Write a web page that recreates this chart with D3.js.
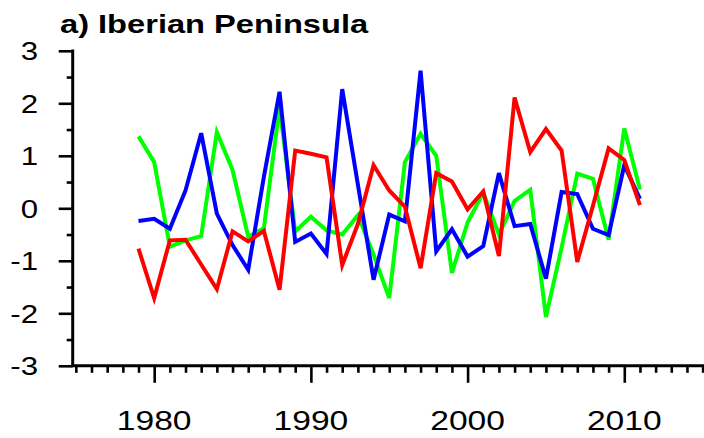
<!DOCTYPE html>
<html>
<head>
<meta charset="utf-8">
<script src="https://cdn.jsdelivr.net/npm/d3@7"></script>
<style>
  html, body { margin: 0; padding: 0; background: #fff; }
  svg { display: block; }
  text { font-family: "Liberation Sans", Arial, sans-serif; fill: #000; }
</style>
</head>
<body>
<svg id="chart" width="704" height="438"></svg>
<script>
// Yearly standardized anomalies, 1979-2011
const years = d3.range(1979, 2012);
const greenSeries = [1.37, 0.88, -0.73, -0.61, -0.53, 1.45, 0.73, -0.54, -0.38, 1.93,
  -0.44, -0.16, -0.42, -0.50, -0.13, -0.88, -1.71, 0.88, 1.42, 1.00,
  -1.23, -0.27, 0.30, -0.50, 0.14, 0.35, -2.07, -0.75, 0.66, 0.56,
  -0.60, 1.52, 0.36];
const blueSeries = [-0.24, -0.20, -0.39, 0.34, 1.43, -0.10, -0.70, -1.17, 0.60, 2.22,
  -0.64, -0.48, -0.87, 2.27, 0.45, -1.36, -0.12, -0.25, 2.62, -0.82,
  -0.40, -0.92, -0.72, 0.67, -0.34, -0.30, -1.34, 0.31, 0.27, -0.39,
  -0.51, 0.82, 0.18];
const redSeries = [-0.77, -1.71, -0.61, -0.60, -1.07, -1.54, -0.44, -0.63, -0.43, -1.55,
  1.10, 1.04, 0.97, -1.08, -0.30, 0.82, 0.34, 0.03, -1.14, 0.67,
  0.51, -0.02, 0.32, -0.91, 2.11, 1.07, 1.51, 1.10, -1.02, 0.05,
  1.14, 0.92, 0.06];

const yTickValues = [-3, -2, -1, 0, 1, 2, 3];
const yTickLabels = ["-3", "-2", "-1", "0", "1", "2", "3"];
const xTickValues = [1980, 1990, 2000, 2010];
const xTickLabels = ["1980", "1990", "2000", "2010"];
const title = "a) Iberian Peninsula";

const svg = d3.select("#chart");

const x = d3.scaleLinear().domain([1974.8, 2016]).range([72.7, 718.3]);
const y = d3.scaleLinear().domain([-3, 3]).range([365.8, 50.8]);

const axisColor = "#000";

// Y axis: major ticks at integers, minor at halves
const yAxis = svg.append("g").attr("transform", `translate(${x(1974.8)},0)`);
yAxis.call(d3.axisLeft(y).tickValues(yTickValues).tickSize(14).tickFormat(""))
  .call(g => g.select(".domain").remove());
const yMinor = svg.append("g").attr("transform", `translate(${x(1974.8)},0)`);
yMinor.call(d3.axisLeft(y).tickValues(d3.range(-2.5, 3, 1)).tickSize(6).tickFormat(""))
  .call(g => g.select(".domain").remove());

// X axis: a tick each year, longer at each decade
const xAxis = svg.append("g").attr("transform", `translate(0,${y(-3)})`);
xAxis.call(d3.axisBottom(x).tickValues(d3.range(1975, 2016).filter(v => v % 10 !== 0)).tickSize(7).tickFormat(""))
  .call(g => g.select(".domain").remove());
const xMajor = svg.append("g").attr("transform", `translate(0,${y(-3)})`);
xMajor.call(d3.axisBottom(x).tickValues(xTickValues).tickSize(17).tickFormat(""))
  .call(g => g.select(".domain").remove());

svg.selectAll(".tick line").attr("stroke", axisColor).attr("stroke-width", 2.6);

// Axis lines
svg.append("line")
  .attr("x1", x(1974.8)).attr("x2", x(1974.8))
  .attr("y1", y(3) - 1.3).attr("y2", y(-3))
  .attr("stroke", axisColor).attr("stroke-width", 3);
svg.append("line")
  .attr("x1", x(1974.8) - 1.5).attr("x2", 704)
  .attr("y1", y(-3)).attr("y2", y(-3))
  .attr("stroke", axisColor).attr("stroke-width", 3);

// Series lines
const line = d3.line().x((d, i) => x(years[i])).y(d => y(d));
const series = [
  { values: greenSeries, color: "#00ff00" },
  { values: blueSeries, color: "#0000ff" },
  { values: redSeries, color: "#ff0000" }
];
svg.append("g").selectAll("path").data(series).join("path")
  .attr("d", d => line(d.values))
  .attr("fill", "none")
  .attr("stroke", d => d.color)
  .attr("stroke-width", 4)
  .attr("stroke-linejoin", "miter")
  .attr("stroke-miterlimit", 4);

// Tick labels (slightly widened glyphs)
svg.append("g").selectAll("g").data(yTickValues).join("g")
  .attr("transform", d => `translate(38,${y(d) + 9.5}) scale(1.2,1)`)
  .append("text")
  .attr("text-anchor", "end")
  .style("font-size", "26px")
  .text((d, i) => yTickLabels[i]);

svg.append("g").selectAll("g").data(xTickValues).join("g")
  .attr("transform", d => `translate(${x(d)},430) scale(1.2,1)`)
  .append("text")
  .attr("text-anchor", "middle")
  .style("font-size", "28px")
  .text((d, i) => xTickLabels[i]);

// Panel title
svg.append("g")
  .attr("transform", "translate(60,33) scale(1.28,1)")
  .append("text")
  .style("font-size", "25.5px")
  .style("font-weight", "bold")
  .text(title);
</script>
</body>
</html>
